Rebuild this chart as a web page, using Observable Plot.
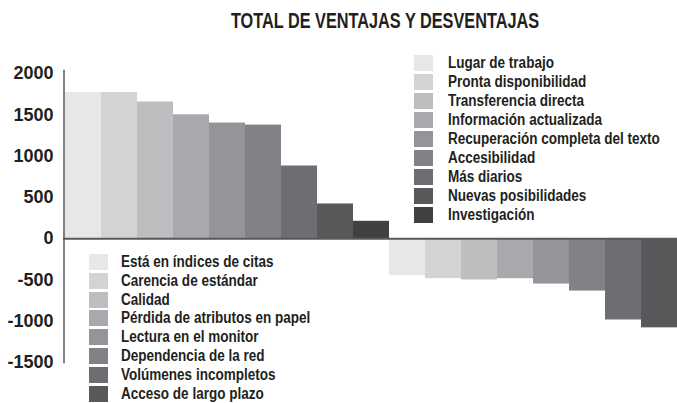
<!DOCTYPE html>
<html>
<head>
<meta charset="utf-8">
<script src="https://cdn.jsdelivr.net/npm/d3@7"></script>
<script src="https://cdn.jsdelivr.net/npm/@observablehq/plot@0.6"></script>
<style>
  html, body { margin: 0; padding: 0; background: #fff; }
  #wrap { position: relative; width: 677px; height: 403px; overflow: hidden; }
  .nar { font-family: "Liberation Sans", Arial, sans-serif; color: #231f20; }
  #title { position: absolute; top: 8px; left: 384.5px; transform: translateX(-50%) scaleX(0.74); font-size: 22px; font-weight: bold; white-space: nowrap; }
  .legend { position: absolute; }
  .row { position: absolute; left: 0; height: 16px; white-space: nowrap; }
  .sw { position: absolute; left: 0; top: 0; width: 19px; height: 16px; }
  .lbl { position: absolute; top: -1px; font-size: 16px; font-weight: bold; line-height: 18px; transform: scaleX(0.845); transform-origin: 0 50%; }
</style>
</head>
<body>
<div id="wrap">
  <div id="chart"></div>
  <div id="title" class="nar">TOTAL DE VENTAJAS Y DESVENTAJAS</div>
  <div id="legPos" class="legend nar" style="left:414px; top:55px;"></div>
  <div id="legNeg" class="legend nar" style="left:89px; top:254px;"></div>
</div>
<script>
const advantages = ["Lugar de trabajo", "Pronta disponibilidad", "Transferencia directa", "Información actualizada", "Recuperación completa del texto", "Accesibilidad", "Más diarios", "Nuevas posibilidades", "Investigación"];
const advantageValues = [1770, 1770, 1655, 1500, 1400, 1375, 880, 420, 210];
const disadvantages = ["Está en índices de citas", "Carencia de estándar", "Calidad", "Pérdida de atributos en papel", "Lectura en el monitor", "Dependencia de la red", "Volúmenes incompletos", "Acceso de largo plazo"];
const disadvantageValues = [-450, -485, -500, -485, -550, -635, -985, -1080];
const grays = ["#e6e7e8", "#d1d3d4", "#bcbec0", "#a7a9ac", "#939598", "#808285", "#6d6e71", "#58595b", "#414042"];
const yTicks = [-1500, -1000, -500, 0, 500, 1000, 1500, 2000];

const data = [
  ...advantages.map((name, i) => ({name, value: advantageValues[i], color: grays[i]})),
  ...disadvantages.map((name, i) => ({name, value: disadvantageValues[i], color: grays[i]}))
];

const chart = Plot.plot({
  width: 677,
  height: 403,
  marginLeft: 65,
  marginRight: 0,
  marginTop: 73,
  marginBottom: 41,
  style: {fontFamily: "'Liberation Sans', Arial, sans-serif", color: "#231f20", background: "#fff"},
  x: {domain: data.map(d => d.name), padding: 0, axis: null},
  y: {domain: [-1500, 2000], ticks: yTicks, label: null},
  color: {type: "identity"},
  marks: [
    Plot.barY(data, {x: "name", y: "value", fill: "color", inset: 0}),
    Plot.frame({anchor: "left", stroke: "#58595b", strokeWidth: 1.5, dx: -1.5, insetTop: -3}),
    Plot.ruleY([0], {stroke: "#58595b", strokeWidth: 2, insetLeft: -2}),
    Plot.axisY({ticks: yTicks, tickSize: 0, tickPadding: 12, fontSize: 18, fontWeight: "bold", label: null, tickFormat: d => String(d).replace("−", "-")})
  ]
});
document.getElementById("chart").appendChild(chart);

function buildLegend(id, names, step) {
  const el = document.getElementById(id);
  names.forEach((n, i) => {
    const row = document.createElement("div");
    row.className = "row";
    row.style.top = (i * step) + "px";
    const sw = document.createElement("div");
    sw.className = "sw";
    sw.style.background = grays[i];
    const lbl = document.createElement("div");
    lbl.className = "lbl";
    lbl.style.left = (id === "legPos" ? 34 : 32) + "px";
    lbl.textContent = n;
    row.appendChild(sw);
    row.appendChild(lbl);
    el.appendChild(row);
  });
}
buildLegend("legPos", advantages, 19);
buildLegend("legNeg", disadvantages, 18.8);
</script>
</body>
</html>
